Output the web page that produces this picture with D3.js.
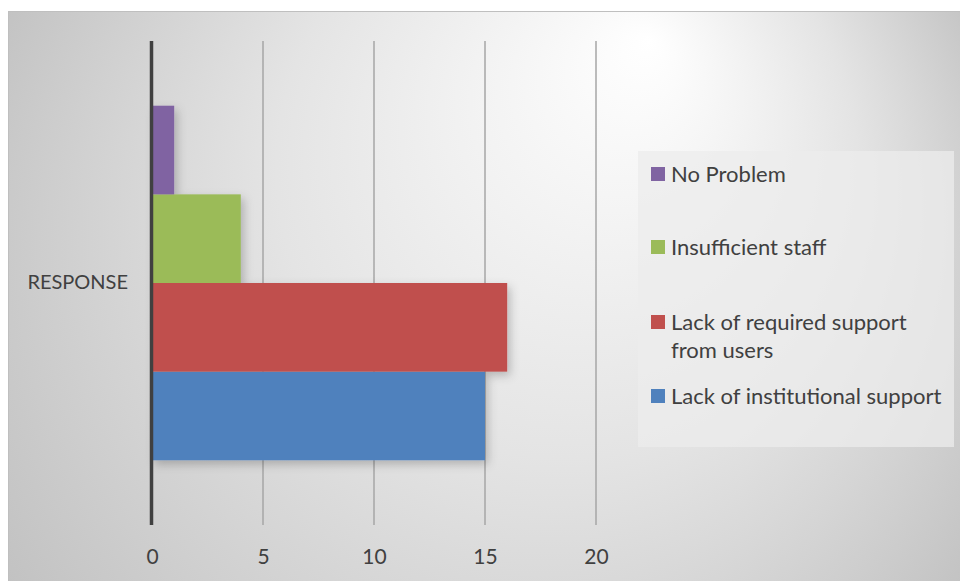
<!DOCTYPE html>
<html>
<head>
<meta charset="utf-8">
<script src="https://cdn.jsdelivr.net/npm/d3@7"></script>
<style>
  html, body { margin: 0; padding: 0; background: #ffffff; }
  svg { display: block; }
  text { font-family: Lato, "Open Sans", sans-serif; fill: #404040; }
</style>
</head>
<body>
<svg id="chart" width="960" height="581"></svg>
<script>
// Responses to the question about problems faced
const categories = ["RESPONSE"];
const seriesNames = ["Lack of institutional support", "Lack of required support from users", "Insufficient staff", "No Problem"];
const seriesValues = [15, 16, 4, 1];
const seriesColors = ["#4f81bd", "#c0504d", "#9bbb59", "#8064a2"];
const tickValues = [0, 5, 10, 15, 20];

const W = 960, H = 581;
const svg = d3.select("#chart");
const defs = svg.append("defs");

// soft radial backdrop of the chart area, brightest near the top
const bg = defs.append("radialGradient").attr("id", "bgGrad")
  .attr("gradientUnits", "userSpaceOnUse")
  .attr("cx", 484).attr("cy", 296).attr("r", 580)
  .attr("fx", 650).attr("fy", 40);
bg.append("stop").attr("offset", 0).attr("stop-color", "#ffffff");
bg.append("stop").attr("offset", 0.5).attr("stop-color", "#e4e4e4");
bg.append("stop").attr("offset", 1).attr("stop-color", "#c0c0c0");

const shadow = defs.append("filter").attr("id", "barShadow")
  .attr("x", "-20%").attr("y", "-20%").attr("width", "160%").attr("height", "160%");
shadow.append("feDropShadow").attr("dx", 3).attr("dy", 4)
  .attr("stdDeviation", 5).attr("flood-color", "#000").attr("flood-opacity", 0.22);

svg.append("rect").attr("x", 8.5).attr("y", 11.5)
  .attr("width", W).attr("height", H)
  .attr("fill", "url(#bgGrad)").attr("stroke", "#bfbfbf").attr("stroke-width", 1);

// scales
const plotTop = 41, plotBottom = 525;
const x = d3.scaleLinear().domain([0, 20]).range([152, 596]);
const yCat = d3.scaleBand().domain(categories).range([plotTop, plotBottom]).paddingOuter(0);
const ySeries = d3.scaleBand().domain(d3.range(seriesNames.length).reverse())
  .range([0, yCat.bandwidth()]).paddingOuter(0.73);

// vertical gridlines
svg.append("g").selectAll("line").data(tickValues.filter(v => v > 0)).join("line")
  .attr("x1", d => x(d)).attr("x2", d => x(d))
  .attr("y1", plotTop).attr("y2", plotBottom)
  .attr("stroke", "#a6a6a6").attr("stroke-width", 1.5);

// bars
categories.forEach(cat => {
  svg.append("g").attr("filter", "url(#barShadow)")
    .selectAll("rect").data(seriesValues).join("rect")
    .attr("x", x(0))
    .attr("y", (d, i) => yCat(cat) + ySeries(i))
    .attr("width", d => x(d) - x(0))
    .attr("height", ySeries.bandwidth())
    .attr("fill", (d, i) => seriesColors[i]);
});

// value axis ticks
const xAxis = d3.axisBottom(x).tickValues(tickValues).tickSize(0).tickPadding(0);
const ax = svg.append("g").attr("transform", `translate(0, ${plotBottom + 39})`).call(xAxis);
ax.select(".domain").remove();
ax.selectAll("text").attr("font-size", 21).attr("dy", 0).style("fill", "#404040")
  .style("font-family", "Lato, 'Open Sans', sans-serif");

// category axis line
svg.append("line").attr("x1", x(0) - 0.5).attr("x2", x(0) - 0.5)
  .attr("y1", plotTop).attr("y2", plotBottom)
  .attr("stroke", "#404040").attr("stroke-width", 3.5);

// category label
const yAxis = d3.axisLeft(yCat).tickSize(0).tickPadding(24);
const ay = svg.append("g").attr("transform", `translate(${x(0)}, 0)`).call(yAxis);
ay.select(".domain").remove();
ay.selectAll("text").attr("font-size", 20).style("fill", "#404040")
  .style("font-family", "Lato, 'Open Sans', sans-serif");

// legend
const legend = svg.append("g");
legend.append("rect").attr("x", 638).attr("y", 151).attr("width", 316).attr("height", 296)
  .attr("fill", "rgba(236,236,236,0.75)");
const legendItems = [
  { i: 3, lines: ["No Problem"], y: 174 },
  { i: 2, lines: ["Insufficient staff"], y: 247 },
  { i: 1, lines: ["Lack of required support", "from users"], y: 322 },
  { i: 0, lines: ["Lack of institutional support"], y: 396 }
];
legendItems.forEach(it => {
  legend.append("rect").attr("x", 651).attr("y", it.y - 7).attr("width", 14).attr("height", 14)
    .attr("fill", seriesColors[it.i]);
  const t = legend.append("text").attr("x", 671).attr("y", it.y + 8).attr("font-size", 22);
  it.lines.forEach((ln, k) => {
    t.append("tspan").attr("x", 671).attr("dy", k === 0 ? 0 : 28).text(ln);
  });
});
</script>
</body>
</html>
